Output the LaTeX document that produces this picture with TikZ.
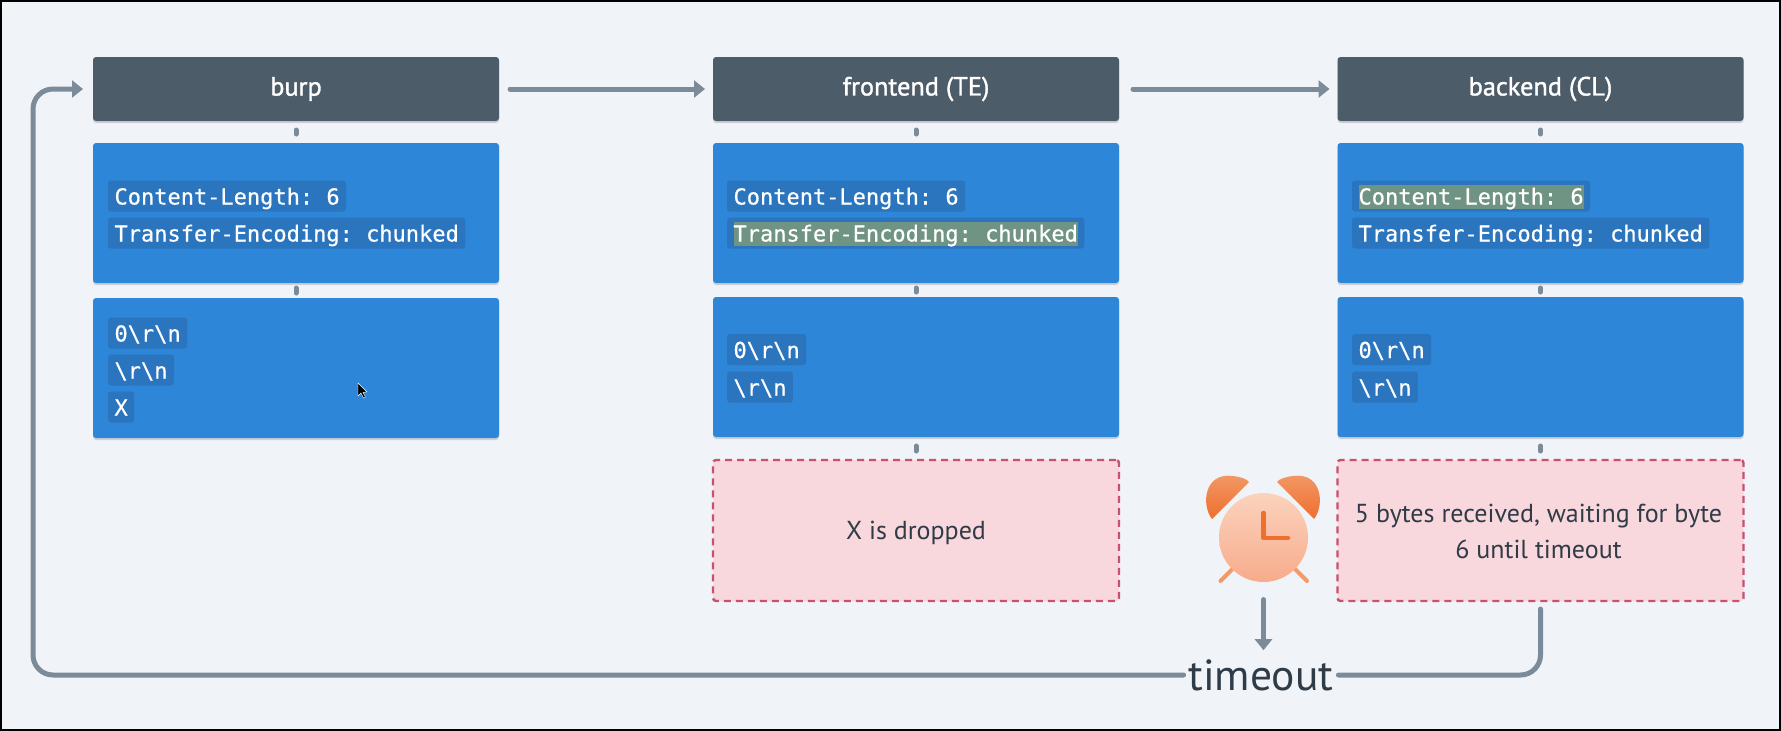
\documentclass[tikz,border=0pt]{standalone}
\usepackage{fontspec}
\setmainfont{PT Sans}
\newfontfamily\codefont[RawFeature={embolden=0.5}]{DejaVu Sans Mono}
\newfontfamily\hdrfont[RawFeature={embolden=1.3}]{PT Sans}
\usetikzlibrary{arrows.meta,shadows,calc}
\definecolor{pagebg}{HTML}{F0F4F8}
\definecolor{hdrfill}{HTML}{4D5C69}
\definecolor{bluefill}{HTML}{2D86D8}
\definecolor{chipfill}{HTML}{2A75BE}
\definecolor{hilite}{HTML}{6F9484}
\definecolor{flowcol}{HTML}{7C8B99}
\definecolor{pinkfill}{HTML}{F8D8DD}
\definecolor{pinkline}{HTML}{C9506E}
\definecolor{inkcol}{HTML}{2F3B47}
\definecolor{orangeA}{HTML}{F29A68}
\definecolor{orangeB}{HTML}{EE6F2E}
\definecolor{faceA}{HTML}{FBD3BD}
\definecolor{faceB}{HTML}{F7AB8B}
\tikzset{
  softshadow/.style={drop shadow={shadow xshift=0pt,shadow yshift=-2pt,opacity=.14,fill=black}},
  hdrbox/.style={fill=hdrfill,text=white,rounded corners=3pt,minimum width=406pt,minimum height=64pt,inner sep=0pt,outer sep=0pt,softshadow,font=\hdrfont\fontsize{26.3}{32}\selectfont},
  bluebox/.style={fill=bluefill,rounded corners=3pt,minimum width=406pt,minimum height=140pt,inner sep=0pt,outer sep=0pt,softshadow},
  pinkbox/.style={fill=pinkfill,draw=pinkline,line width=2.4pt,dash pattern=on 7pt off 5pt,rounded corners=3pt,minimum width=406pt,minimum height=141pt,inner sep=0pt,outer sep=0pt},
  notetext/.style={inner sep=0pt,outer sep=0pt,text=inkcol,align=center,font=\fontsize{26}{36}\selectfont},
  chip/.style={fill=chipfill,text=white,rounded corners=3pt,anchor=west,text height=24pt,text depth=7pt,inner xsep=6.5pt,inner ysep=0pt,outer sep=0pt,font=\codefont\fontsize{22}{26}\selectfont\frenchspacing},
  hilitebar/.style={fill=hilite,inner sep=0pt,outer sep=0pt,anchor=west,minimum height=24pt},
  link/.style={draw=flowcol,line width=5pt,line cap=round,shorten <=9pt,shorten >=9pt},
  flow/.style={draw=flowcol,line width=5pt,line cap=round},
  tip/.style={-{Triangle[length=11pt,width=17pt]}},
}
\begin{document}
\begin{tikzpicture}[x=1pt,y=-1pt]
\useasboundingbox (0,0) rectangle (1781,731);
\fill[black] (0,0) rectangle (1781,731);
\fill[pagebg] (2,2) rectangle (1779,729);

% headers
\node[hdrbox] (h1) at (296,89) {\raisebox{-3pt}{burp}};
\node[hdrbox] (h2) at (916,89) {\raisebox{-3pt}{frontend (TE)}};
\node[hdrbox] (h3) at (1540.5,89) {\raisebox{-3pt}{backend (CL)}};

% header blue boxes
\node[bluebox] (a1) at (296,213) {};
\node[bluebox] (a2) at (916,213) {};
\node[bluebox] (a3) at (1540.5,213) {};
% body blue boxes
\node[bluebox] (b1) at (296,368) {};
\node[bluebox] (b2) at (916,367) {};
\node[bluebox] (b3) at (1540.5,367) {};
% pink notes
\node[pinkbox] (p2) at (916,530.5) {};
\node[pinkbox] (p3) at (1540.5,530.5) {};
\node[notetext] (p2t) at (916,533) {X is dropped};
\node[notetext] (p3t) at (1538.5,531.5) {5 bytes received, waiting for byte\\6 until timeout};

% stacked connectors
\draw[link] (h1.south) -- (a1.north);
\draw[link,shorten <=5pt,shorten >=5pt] (a1.south) -- (b1.north);
\draw[link] (h2.south) -- (a2.north);
\draw[link,shorten <=5pt,shorten >=5pt] (a2.south) -- (b2.north);
\draw[link] (b2.south) -- (p2.north);
\draw[link] (h3.south) -- (a3.north);
\draw[link,shorten <=5pt,shorten >=5pt] (a3.south) -- (b3.north);
\draw[link] (b3.south) -- (p3.north);

% burp chips
\node[chip] (c11) at (108,196) {Content-Length: 6};
\node[chip] (c12) at (108,233) {Transfer-Encoding: chunked};
\node[chip] (c13) at (108,333) {0\textbackslash r\textbackslash n};
\node[chip] (c14) at (108,370) {\textbackslash r\textbackslash n};
\node[chip] (c15) at (108,407) {X};
% frontend chips
\node[chip] (c21) at (727,196) {Content-Length: 6};
\node[chip] (c22) at (727,233) {Transfer-Encoding: chunked};
\node[hilitebar,minimum width=344pt] (g2) at (733.5,234) {};
\node[chip,fill=none] (c22t) at (727,233) {Transfer-Encoding: chunked};
\node[chip] (c23) at (727,349.5) {0\textbackslash r\textbackslash n};
\node[chip] (c24) at (727,387) {\textbackslash r\textbackslash n};
% backend chips
\node[chip] (c31) at (1352,196) {Content-Length: 6};
\node[hilitebar,minimum width=225pt] (g3) at (1358.5,197) {};
\node[chip,fill=none] (c31t) at (1352,196) {Content-Length: 6};
\node[chip] (c32) at (1352,233) {Transfer-Encoding: chunked};
\node[chip] (c33) at (1352,349.5) {0\textbackslash r\textbackslash n};
\node[chip] (c34) at (1352,387) {\textbackslash r\textbackslash n};

% forward arrows
\draw[flow,tip,shorten <=11pt,shorten >=8pt] (h1.east) -- (h2.west);
\draw[flow,tip,shorten <=14pt,shorten >=8pt] (h2.east) -- (h3.west);

% clock
\node[minimum size=92pt,inner sep=0pt,outer sep=0pt] (clock) at (1263.5,537.5) {};
\draw[line width=4pt,line cap=round,draw=orangeA] (1232.5,569) -- (1220.5,581);
\draw[line width=4pt,line cap=round,draw=orangeA] (1295,569) -- (1307,581);
\shade[top color=orangeA,bottom color=orangeB]
  (1212,519) .. controls (1201,505) and (1204,472) .. (1233,476) .. controls (1241,477) and (1247,479) .. (1249,482) -- cycle;
\shade[top color=orangeA,bottom color=orangeB]
  (1314,519) .. controls (1325,505) and (1322,472) .. (1293,476) .. controls (1285,477) and (1279,479) .. (1277,482) -- cycle;
\shade[top color=faceA,bottom color=faceB] (1263.5,537.5) ellipse [x radius=44.5pt,y radius=44.5pt];
\draw[draw=orangeB,line width=4.5pt,line cap=round,line join=round] (1263.5,513) -- (1263.5,538) -- (1288,538);

% timeout
\node[inner sep=0pt,outer sep=0pt,text=inkcol,font=\fontsize{43.5}{50}\selectfont,anchor=base] (timeout) at (1261,690) {timeout};
\coordinate (cornerBL) at (33,675);
\coordinate (cornerTL) at (33,89);
\draw[flow,tip,shorten <=16pt,shorten >=9pt] (clock.south) -- (clock.south |- timeout.north);
\draw[flow,rounded corners=20pt,shorten <=8pt,shorten >=5pt] (p3.south) -- (p3.south |- cornerBL) -- (timeout.east |- cornerBL);
\draw[flow,tip,rounded corners=20pt,shorten <=5pt,shorten >=10pt] (timeout.west |- cornerBL) -- (cornerBL) -- (cornerTL) -- (h1.west);

% mouse pointer
\fill[black,draw=white,line width=.4pt] (358,383) -- (358,396) -- (361,393) -- (363.5,398) -- (365.5,397) -- (363,392.5) -- (367,392) -- cycle;
\end{tikzpicture}
\end{document}
